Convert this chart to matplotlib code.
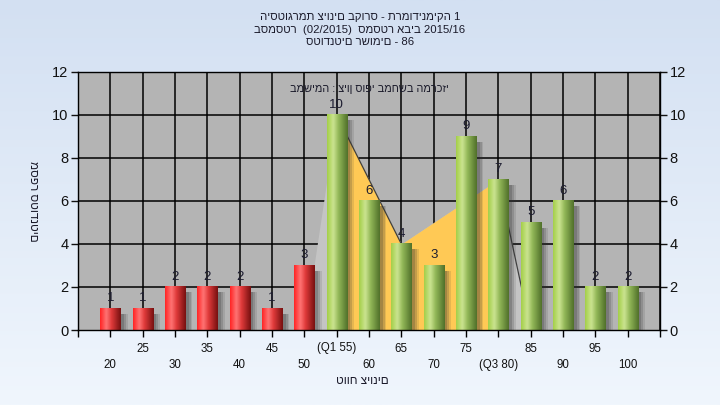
import matplotlib; matplotlib.use('Agg')
import matplotlib.pyplot as plt
import numpy as np
from matplotlib.colors import LinearSegmentedColormap

plt.rcParams['font.family'] = ['Liberation Sans', 'DejaVu Sans']

# grade histogram data
scores = [20, 25, 30, 35, 40, 45, 50, 55, 60, 65, 70, 75, 80, 85, 90, 95, 100]
counts = [1, 1, 2, 2, 2, 1, 3, 10, 6, 4, 3, 9, 7, 5, 6, 2, 2]
pass_mark = 55
q1, q3 = 55, 80

# distribution outline drawn behind the bars
area_x = [50, 55, 65, 80, 85]
area_y = [0, 10, 4, 7, 0]

title = ("היסטוגרמת ציונים בקורס - תרמודינמיקה 1\n"
         "בסמסטר  (02/2015)  סמסטר אביב 2015/16\n"
         "סטודנטים רשומים - 86")
subtitle = "במשימה : ציון סופי במחשב המרכזי"
xlabel = "טווח ציונים"
ylabel = "מספר סטודנטים"

fig = plt.figure(figsize=(7.2, 4.05), dpi=100)

# background gradient
bg = fig.add_axes([0, 0, 1, 1], zorder=-10)
bg.axis('off')
bg_cmap = LinearSegmentedColormap.from_list('bg', ['#d3e0f2', '#f0f6fd'])
bg.imshow(np.linspace(0, 1, 256).reshape(-1, 1), aspect='auto', cmap=bg_cmap,
          extent=[0, 1, 0, 1])

ax = fig.add_axes([78/720, 1 - 330/405, (660-78)/720, (330-72)/405])
ax.set_facecolor('#b4b4b4')

# grid
for gx in range(15, 106, 5):
    ax.axvline(gx, color='black', lw=1.1, zorder=1)
for gy in range(2, 13, 2):
    ax.axhline(gy, color='black', lw=1.1, zorder=1)

# area behind bars
ax.fill_between(area_x, area_y, color='#c4c4c4', lw=0, zorder=1.5)
ax.fill_between(area_x[1:4], area_y[1:4], color='#ffc955', lw=0, zorder=1.6)
ax.plot(area_x[1:3], area_y[1:3], color='#404040', lw=0.9, zorder=1.7)
ax.plot(area_x[3:5], area_y[3:5], color='#404040', lw=0.9, zorder=1.7)

red_cmap = LinearSegmentedColormap.from_list(
    'red', [(0, '#ff2424'), (0.3, '#ff7474'), (0.55, '#e03a3a'), (1, '#761010')])
green_cmap = LinearSegmentedColormap.from_list(
    'green', [(0, '#a4cf48'), (0.3, '#cbe491'), (0.55, '#93b858'), (1, '#50702a')])
grad = np.linspace(0, 1, 64).reshape(1, -1)

w = 3.1
for x, c in zip(scores, counts):
    # soft shadow
    for off, a in [(0.55, 0.22), (0.85, 0.18), (1.15, 0.12)]:
        ax.bar(x + off, c - 0.1, width=w, bottom=-0.15, color='#303030',
               alpha=a, lw=0, zorder=2)
    cm = red_cmap if x < pass_mark else green_cmap
    ax.imshow(grad, extent=[x - w/2, x + w/2, 0, c], aspect='auto', cmap=cm,
              interpolation='bicubic', zorder=3)
    ax.text(x, c + 0.2, str(c), ha='center', va='bottom', fontsize=9.5,
            color='#1c1c30', zorder=4)

ax.set_xlim(15, 105)
ax.set_ylim(0, 12)
ax.set_aspect('auto')

# x tick labels in two staggered rows
ticks = list(range(15, 106, 5))
labels = []
for t in ticks:
    if t not in scores:
        labels.append('')
        continue
    lab = str(t)
    if t == q1:
        lab = f'(Q1 {t})'
    elif t == q3:
        lab = f'(Q3 {t})'
    i = scores.index(t)
    labels.append(lab if i % 2 else '\n' + lab)
ax.set_xticks(ticks)
ax.set_xticklabels(labels, fontsize=8.3, linespacing=1.55, color='#111111')
ax.set_yticks(range(0, 13, 2))
ax.tick_params(axis='x', direction='out', length=5, width=1, pad=4)
ax.tick_params(axis='y', direction='out', length=5, width=1, labelsize=10.5,
               left=True, right=True, labelleft=True, labelright=True, pad=2,
               colors='#111111')
for s in ax.spines.values():
    s.set_color('black')
    s.set_linewidth(1)
    s.set_zorder(5)

ax.text(0.5, 0.955, subtitle, transform=ax.transAxes, ha='center', va='top',
        fontsize=7.8, color='#1a1a2a', zorder=6)

fig.text(0.5, 1 - 12/405, title, ha='center', va='top', fontsize=8.2,
         linespacing=1.32, color='#1a1a2a')
fig.text(362/720, 1 - 381/405, xlabel, ha='center', va='center', fontsize=8.5,
         color='#1a1a2a')
fig.text(33/720, 1 - 201/405, ylabel, ha='center', va='center', fontsize=8.5,
         rotation=270, color='#1a1a2a')

fig.savefig('out.png', dpi=100)
